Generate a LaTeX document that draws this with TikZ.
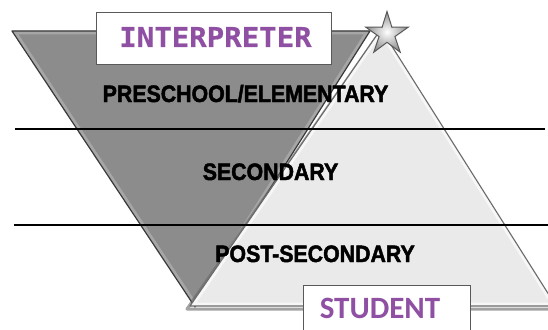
\documentclass[tikz,border=0pt]{standalone}
\usepackage{fontspec}
\usetikzlibrary{shapes.geometric}
\newfontfamily\labelfont{Liberation Sans}[FakeStretch=0.9,FakeBold=2]
\newfontfamily\monofont{DejaVu Sans Mono}[FakeStretch=1.06,FakeBold=0.4]
\newfontfamily\studentfont{Carlito}
\definecolor{purp}{HTML}{8F4FA3}
\definecolor{darkfill}{HTML}{8C8C8C}
\definecolor{darkbevel}{HTML}{A6A6A6}
\definecolor{darkedge}{HTML}{3A3A3A}
\definecolor{lightfill}{HTML}{EAEAEA}
\definecolor{lightbevel}{HTML}{F7F7F7}
\definecolor{lightedge}{HTML}{6A6A6A}
\begin{document}
\begin{tikzpicture}[x=1pt,y=-1pt,
  level/.style={font=\labelfont\bfseries\fontsize{23.7}{24}\selectfont, text=black, anchor=base, inner sep=0pt},
  titletext/.style={text=purp, anchor=base, inner sep=0pt},
  titlebox/.style={draw=black!65, fill=white, line width=0.8pt, inner sep=0pt},
  rule/.style={line width=2.6pt, black}]
\useasboundingbox (0,0) rectangle (548,329);
\fill[white] (0,0) rectangle (548,329);
% dark inverted triangle
\coordinate (d1) at (12,31);
\coordinate (d2) at (370,31);
\coordinate (d3) at (195,307);
\fill[darkfill] (d1) -- (d2) -- (d3) -- cycle;
\begin{scope}
  \clip (d1) -- (d2) -- (d3) -- cycle;
  \draw[darkbevel, line width=7pt, line join=round] (d1) -- (d2) -- (d3) -- cycle;
\end{scope}
\draw[darkedge, line width=1.2pt, line join=round] (d1) -- (d2) -- (d3) -- cycle;
% light upright triangle: shadow, fill, bevel, edge
\coordinate (l1) at (381,29);
\coordinate (l2) at (190,306);
\coordinate (l3) at (556,306);
\coordinate (s1) at (380,32);
\coordinate (s2) at (187,309);
\coordinate (s3) at (556,309);
\draw[black!60, line width=3pt, line join=round, opacity=0.6] (s1) -- (s2) -- (s3);
\fill[lightfill] (l1) -- (l2) -- (l3) -- cycle;
\begin{scope}
  \clip (l1) -- (l2) -- (l3) -- cycle;
  \draw[lightbevel, line width=7pt, line join=round] (l1) -- (l2) -- (l3) -- cycle;
\end{scope}
\draw[lightedge, line width=1.1pt, line join=round] (l1) -- (l2) -- (l3) -- cycle;
% rules
\coordinate (r1a) at (15,129);
\coordinate (r1b) at (545,129);
\coordinate (r2a) at (14,225);
\coordinate (r2b) at (548,225);
\draw[rule] (r1a) -- (r1b);
\draw[rule] (r2a) -- (r2b);
% star
\node[star, star points=5, star point ratio=2.7, minimum size=45pt, inner sep=0pt,
      draw=black!65, line width=1pt, inner color=white, outer color=black!45] (star) at (387,34) {};
% boxes
\node[titlebox, anchor=north west, minimum width=235pt, minimum height=52pt] (interpbox) at (96,12) {};
\node[titlebox, anchor=north west, minimum width=167pt, minimum height=60pt] (studentbox) at (303,285) {};
% titles
\node[titletext, font=\monofont\bfseries\fontsize{27.4}{28}\selectfont] (interp) at (215.5,47) {INTERPRETER};
\node[titletext, font=\studentfont\bfseries\fontsize{31}{32}\selectfont] (student) at (380,318) {STUDENT};
% level labels
\node[level] (pre) at (245.5,102) {PRESCHOOL/ELEMENTARY};
\node[level] (sec) at (270.5,180) {SECONDARY};
\node[level] (post) at (315,262) {POST-SECONDARY};
\end{tikzpicture}
\end{document}
